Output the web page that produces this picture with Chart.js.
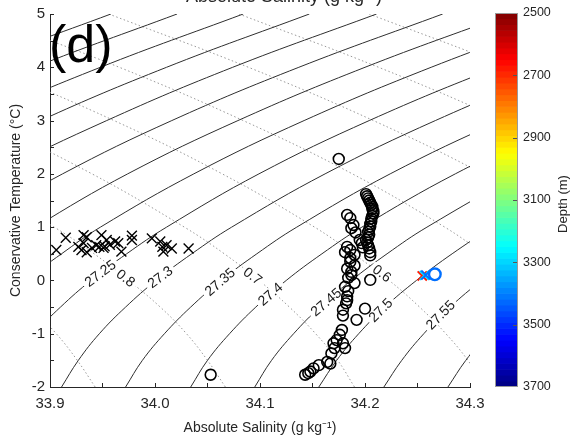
<!DOCTYPE html>
<html>
<head>
<meta charset="utf-8">
<script src="https://cdn.jsdelivr.net/npm/chart.js@4.4.1/dist/chart.umd.min.js"></script>
<style>
  html, body { margin: 0; padding: 0; background: #ffffff; }
  #wrap { position: relative; width: 572px; height: 442px; overflow: hidden; }
  #ts { position: absolute; left: 0; top: 0; }
  #cb { position: absolute; left: 480px; top: 0; }
</style>
</head>
<body>
<div id="wrap">
  <canvas id="ts" width="572" height="442"></canvas>
  <canvas id="cb" width="92" height="442"></canvas>
</div>
<script>
// ---------- axes ----------
const salinityRange = [33.9, 34.3];
const temperatureRange = [-2, 5];
const salinityStep = 0.1;
const temperatureStep = 1;

// ---------- sigma-0 isopycnals: salinity of each level at the listed temperatures ----------
const contourT = [-2, -1.5, -1, -0.5, 0, 0.5, 1, 2, 3, 4, 5];
const sigmaLevels = [26.85, 26.9, 26.95, 27.0, 27.05, 27.1, 27.15, 27.2, 27.25, 27.3, 27.35, 27.4, 27.45, 27.5, 27.55, 27.6];
const sigmaS = [
  [33.358, 33.373, 33.392, 33.416, 33.444, 33.476, 33.513, 33.600, 33.703, 33.822, 33.958],
  [33.419, 33.434, 33.454, 33.477, 33.506, 33.538, 33.575, 33.662, 33.765, 33.885, 34.021],
  [33.481, 33.496, 33.515, 33.539, 33.568, 33.601, 33.638, 33.724, 33.828, 33.948, 34.084],
  [33.542, 33.557, 33.577, 33.601, 33.630, 33.663, 33.700, 33.787, 33.891, 34.011, 34.147],
  [33.603, 33.619, 33.639, 33.663, 33.692, 33.725, 33.762, 33.849, 33.954, 34.074, 34.211],
  [33.665, 33.680, 33.700, 33.725, 33.754, 33.787, 33.824, 33.912, 34.016, 34.137, 34.274],
  [33.726, 33.742, 33.762, 33.787, 33.815, 33.849, 33.886, 33.974, 34.079, 34.200, 34.337],
  [33.788, 33.804, 33.824, 33.848, 33.877, 33.911, 33.948, 34.037, 34.142, 34.263, 34.400],
  [33.849, 33.865, 33.885, 33.910, 33.939, 33.973, 34.011, 34.099, 34.204, 34.326, 34.463],
  [33.911, 33.927, 33.947, 33.972, 34.001, 34.035, 34.073, 34.162, 34.267, 34.389, 34.527],
  [33.972, 33.988, 34.009, 34.034, 34.063, 34.097, 34.135, 34.224, 34.330, 34.452, 34.590],
  [34.034, 34.050, 34.071, 34.096, 34.125, 34.159, 34.197, 34.286, 34.392, 34.515, 34.653],
  [34.095, 34.111, 34.132, 34.157, 34.187, 34.221, 34.259, 34.349, 34.455, 34.578, 34.716],
  [34.156, 34.173, 34.194, 34.219, 34.249, 34.283, 34.322, 34.411, 34.518, 34.641, 34.779],
  [34.218, 34.235, 34.256, 34.281, 34.311, 34.345, 34.384, 34.474, 34.580, 34.703, 34.843],
  [34.279, 34.296, 34.317, 34.343, 34.373, 34.407, 34.446, 34.536, 34.643, 34.766, 34.906]
];

// ---------- dotted spice contours (same temperatures) ----------
const spiceLevels = [0.9, 0.8, 0.7, 0.6, 0.5, 0.4, 0.3, 0.2];
const spiceS = [
  [33.943, 33.926, 33.906, 33.881, 33.851, 33.818, 33.780, 33.693, 33.589, 33.470, 33.336],
  [34.067, 34.050, 34.030, 34.005, 33.975, 33.942, 33.904, 33.816, 33.713, 33.594, 33.460],
  [34.190, 34.174, 34.153, 34.128, 34.099, 34.066, 34.028, 33.940, 33.837, 33.718, 33.584],
  [34.314, 34.298, 34.277, 34.252, 34.223, 34.189, 34.152, 34.064, 33.961, 33.842, 33.708],
  [34.438, 34.422, 34.401, 34.376, 34.347, 34.313, 34.276, 34.188, 34.084, 33.966, 33.832],
  [34.562, 34.546, 34.525, 34.500, 34.471, 34.437, 34.399, 34.312, 34.208, 34.089, 33.956],
  [34.686, 34.670, 34.649, 34.624, 34.595, 34.561, 34.523, 34.436, 34.332, 34.213, 34.080],
  [34.810, 34.794, 34.773, 34.748, 34.718, 34.685, 34.647, 34.560, 34.456, 34.337, 34.204]
];

// ---------- inline contour labels ----------
const isoLabelLevel = [27.25, 27.3, 27.35, 27.4, 27.45, 27.5, 27.55];
const isoLabelS = [33.948, 34.005, 34.062, 34.110, 34.163, 34.215, 34.272];
const isoLabelT = [0.13, 0.06, -0.03, -0.26, -0.41, -0.56, -0.65];
const spiceLabelLevel = [0.8, 0.7, 0.6];
const spiceLabelS = [33.972, 34.093, 34.216];
const spiceLabelT = [0.04, 0.08, 0.13];

// ---------- observations ----------
const crossS = [33.906, 33.915, 33.927, 33.932, 33.935, 33.932, 33.930, 33.935, 33.940, 33.944, 33.947, 33.952,
                33.949, 33.951, 33.954, 33.957, 33.962, 33.965, 33.968, 33.978, 33.978, 33.997, 34.005, 34.007,
                34.008, 34.011, 34.016, 34.032];
const crossT = [0.57, 0.80, 0.63, 0.85, 0.81, 0.70, 0.57, 0.53, 0.61, 0.66, 0.63, 0.64,
                0.85, 0.61, 0.76, 0.67, 0.73, 0.70, 0.54, 0.84, 0.76, 0.79, 0.73, 0.63,
                0.54, 0.66, 0.60, 0.60];

const circleS = [
  34.201, 34.202, 34.203, 34.204, 34.205, 34.206, 34.207, 34.207, 34.208, 34.208, 34.207, 34.206, 34.206,
  34.205, 34.205, 34.204, 34.203, 34.204, 34.203, 34.201, 34.202, 34.203, 34.204, 34.205, 34.205,
  34.183, 34.186, 34.189, 34.187, 34.191,
  34.195, 34.197, 34.198, 34.183, 34.186, 34.181, 34.190, 34.186, 34.186, 34.190, 34.183, 34.187, 34.187,
  34.184, 34.190, 34.181, 34.184, 34.183, 34.183, 34.182, 34.179, 34.179, 34.205, 34.200, 34.192,
  34.178, 34.176, 34.173, 34.179, 34.170, 34.181, 34.171, 34.168, 34.167, 34.164, 34.156, 34.151,
  34.148, 34.146, 34.143,
  34.175, 34.053
];
const circleT = [
  1.62, 1.58, 1.54, 1.50, 1.46, 1.42, 1.38, 1.34, 1.30, 1.26, 1.21, 1.16, 1.11,
  1.06, 1.01, 0.96, 0.91, 0.86, 0.81, 0.76, 0.71, 0.66, 0.60, 0.53, 0.47,
  1.23, 1.17, 1.04, 0.98, 0.90,
  0.76, 0.70, 0.62, 0.63, 0.57, 0.53, 0.48, 0.42, 0.35, 0.28, 0.22, 0.16, 0.10,
  0.05, -0.05, -0.12, -0.20, -0.30, -0.37, -0.43, -0.55, -0.66, 0.01, -0.53, -0.74,
  -0.93, -1.02, -1.12, -1.18, -1.18, -1.27, -1.27, -1.37, -1.56, -1.53, -1.59, -1.65,
  -1.71, -1.74, -1.77,
  2.28, -1.77
];

// deep samples coloured by depth (m)
const deepCrossS = [34.2545, 34.2565, 34.2580];
const deepCrossT = [0.085, 0.095, 0.100];
const deepCrossDepth = [2680, 3300, 3420];
const deepCircleS = [34.2665];
const deepCircleT = [0.115];
const deepCircleDepth = [3420];

// ---------- colour scale ----------
const depthRange = [2500, 3700];
const depthTicks = [2500, 2700, 2900, 3100, 3300, 3500, 3700];
const colorSteps = 64;

const FONT = '"Liberation Sans", Arial, Helvetica, sans-serif';
const INK = '#262626';

function clamp01(v) { return Math.max(0, Math.min(1, v)); }
function jet(t) {
  const r = clamp01(1.5 - Math.abs(4 * t - 3));
  const g = clamp01(1.5 - Math.abs(4 * t - 2));
  const b = clamp01(1.5 - Math.abs(4 * t - 1));
  return 'rgb(' + Math.round(r * 255) + ',' + Math.round(g * 255) + ',' + Math.round(b * 255) + ')';
}
function depthColor(d) { return jet((depthRange[1] - d) / (depthRange[1] - depthRange[0])); }
function pts(xs, ys) { return xs.map((x, i) => ({ x: x, y: ys[i] })); }

// ---------- datasets ----------
const markerSets = [];
deepCircleS.forEach((s, i) => markerSets.push({
  data: [{ x: s, y: deepCircleT[i] }], pointStyle: 'circle', pointRadius: 5.8,
  borderColor: depthColor(deepCircleDepth[i]), backgroundColor: 'rgba(0,0,0,0)', borderWidth: 2.4, order: 0
}));
for (let i = deepCrossS.length - 1; i >= 0; i--) markerSets.push({
  data: [{ x: deepCrossS[i], y: deepCrossT[i] }], pointStyle: 'crossRot', pointRadius: 6.5,
  borderColor: depthColor(deepCrossDepth[i]), borderWidth: 1.8, order: 0
});
markerSets.push({
  data: pts(crossS, crossT), pointStyle: 'crossRot', pointRadius: 7,
  borderColor: '#000', borderWidth: 1.4, order: 0
});
markerSets.push({
  data: pts(circleS, circleT), pointStyle: 'circle', pointRadius: 5.4,
  borderColor: '#000', backgroundColor: 'rgba(0,0,0,0)', borderWidth: 1.6, order: 0
});

const firstContour = markerSets.length;
const isoSets = sigmaLevels.map((lvl, i) => ({
  kind: 'sigma', level: lvl,
  data: pts(sigmaS[i], contourT), showLine: true, pointRadius: 0, pointHoverRadius: 0,
  borderColor: '#2e2e2e', borderWidth: 1, tension: 0.4, order: 1
}));
const spiceSets = spiceLevels.map((lvl, i) => ({
  kind: 'spice', level: lvl,
  data: pts(spiceS[i], contourT), showLine: true, pointRadius: 0, pointHoverRadius: 0,
  borderColor: '#8c8c8c', borderWidth: 0.9, borderDash: [1.5, 2.5], tension: 0.4, order: 1
}));
const allSets = markerSets.concat(isoSets, spiceSets);

// ---------- plugins ----------
const inwardTicks = {
  id: 'inwardTicks',
  afterDatasetsDraw(chart) {
    const { ctx, chartArea: a, scales: { x, y } } = chart;
    ctx.save();
    ctx.strokeStyle = INK; ctx.lineWidth = 1;
    const len = 4;
    const half = salinityStep / 2;
    for (let v = salinityRange[0]; v <= salinityRange[1] + 1e-9; v += half) {
      const px = Math.round(x.getPixelForValue(v)) + 0.5;
      ctx.beginPath(); ctx.moveTo(px, a.bottom); ctx.lineTo(px, a.bottom - len); ctx.stroke();
    }
    const hy = temperatureStep / 2;
    for (let v = temperatureRange[0]; v <= temperatureRange[1] + 1e-9; v += hy) {
      const py = Math.round(y.getPixelForValue(v)) + 0.5;
      ctx.beginPath(); ctx.moveTo(a.left, py); ctx.lineTo(a.left + len, py); ctx.stroke();
    }
    ctx.restore();
  }
};

function segmentAngle(chart, datasetIndex, t) {
  const pts = chart.getDatasetMeta(datasetIndex).data;
  let j = 0;
  while (j < contourT.length - 2 && contourT[j + 1] < t) j++;
  let dx = pts[j + 1].x - pts[j].x, dy = pts[j + 1].y - pts[j].y;
  if (dx < 0) { dx = -dx; dy = -dy; }
  return Math.atan2(dy, dx);
}

function drawInlineLabel(ctx, text, px, py, ang) {
  ctx.save();
  ctx.translate(px, py); ctx.rotate(ang);
  ctx.font = '14px ' + FONT;
  const w = ctx.measureText(text).width;
  ctx.fillStyle = '#ffffff';
  ctx.fillRect(-w / 2 - 3, -5.5, w + 6, 11);
  ctx.fillStyle = '#1a1a1a';
  ctx.textAlign = 'center'; ctx.textBaseline = 'middle';
  ctx.fillText(text, 0, 0.5);
  ctx.restore();
}

const contourLabels = {
  id: 'contourLabels',
  afterDatasetDraw(chart, args) {
    if (args.index !== firstContour) return;
    const { ctx, scales: { x, y } } = chart;
    isoLabelLevel.forEach((lvl, i) => {
      const di = firstContour + sigmaLevels.indexOf(lvl);
      const ang = segmentAngle(chart, di, isoLabelT[i]);
      drawInlineLabel(ctx, String(lvl), x.getPixelForValue(isoLabelS[i]), y.getPixelForValue(isoLabelT[i]), ang);
    });
    spiceLabelLevel.forEach((lvl, i) => {
      const di = firstContour + sigmaLevels.length + spiceLevels.indexOf(lvl);
      const ang = segmentAngle(chart, di, spiceLabelT[i]);
      drawInlineLabel(ctx, String(lvl), x.getPixelForValue(spiceLabelS[i]), y.getPixelForValue(spiceLabelT[i]), ang);
    });
  }
};

const panelText = {
  id: 'panelText',
  afterDraw(chart) {
    const { ctx, chartArea: a } = chart;
    ctx.save();
    ctx.fillStyle = '#000';
    ctx.font = '52px ' + FONT;
    ctx.textAlign = 'left'; ctx.textBaseline = 'alphabetic';
    ctx.fillText('(d)', a.left - 1, a.top + 48);
    ctx.fillStyle = INK;
    ctx.font = '18px ' + FONT;
    ctx.textAlign = 'center';
    ctx.fillText('Absolute Salinity (g kg\u207B\u00B9)', 284, 2);
    ctx.restore();
  }
};

// ---------- T-S diagram ----------
new Chart(document.getElementById('ts'), {
  type: 'scatter',
  data: { datasets: allSets },
  options: {
    responsive: false, animation: false, events: [],
    layout: { padding: { left: 0, right: 102, top: 14, bottom: 0 } },
    plugins: { legend: { display: false }, tooltip: { enabled: false } },
    scales: {
      x: {
        type: 'linear', min: salinityRange[0], max: salinityRange[1],
        ticks: { stepSize: salinityStep, callback: v => v.toFixed(1), font: { family: FONT, size: 15 }, color: INK, padding: 8, maxRotation: 0, autoSkip: false },
        grid: { display: false, drawTicks: false },
        border: { display: true, color: INK, width: 1 },
        title: { display: true, text: 'Absolute Salinity (g kg\u207B\u00B9)', font: { family: FONT, size: 14 }, color: INK, padding: { top: 0, bottom: 5 } },
        afterFit(s) { s.height = 55; }
      },
      y: {
        type: 'linear', min: temperatureRange[0], max: temperatureRange[1],
        ticks: { stepSize: temperatureStep, callback: v => String(v), font: { family: FONT, size: 15 }, color: INK, padding: 5 },
        grid: { display: false, drawTicks: false },
        border: { display: true, color: INK, width: 1 },
        title: { display: true, text: 'Conservative Temperature (\u00B0C)', font: { family: FONT, size: 14 }, color: INK, padding: { top: 8, bottom: 0 } },
        afterFit(s) { s.width = 50; }
      }
    }
  },
  plugins: [contourLabels, inwardTicks, panelText]
});

// ---------- depth colour bar ----------
const bandSize = (depthRange[1] - depthRange[0]) / colorSteps;
const bandSets = [];
for (let i = 0; i < colorSteps; i++) {
  const lo = depthRange[0] + i * bandSize, hi = lo + bandSize;
  bandSets.push({ data: [[lo, hi]], backgroundColor: depthColor((lo + hi) / 2), borderWidth: 0 });
}

const barFrame = {
  id: 'barFrame',
  afterDraw(chart) {
    const { ctx, chartArea: a, scales: { y } } = chart;
    ctx.save();
    ctx.strokeStyle = '#9a9a9a'; ctx.lineWidth = 1;
    ctx.strokeRect(Math.round(a.left) + 0.5, Math.round(a.top) + 0.5, Math.round(a.right - a.left) - 1, Math.round(a.bottom - a.top) - 1);
    ctx.strokeStyle = '#555';
    depthTicks.slice(1, -1).forEach(d => {
      const py = Math.round(y.getPixelForValue(d)) + 0.5;
      ctx.beginPath(); ctx.moveTo(a.right - 5, py); ctx.lineTo(a.right - 1, py); ctx.stroke();
    });
    ctx.fillStyle = INK;
    ctx.font = '13px ' + FONT;
    ctx.translate(83, (a.top + a.bottom) / 2 + 4);
    ctx.rotate(-Math.PI / 2);
    ctx.textAlign = 'center'; ctx.textBaseline = 'middle';
    ctx.fillText('Depth (m)', 0, 0);
    ctx.restore();
  }
};

new Chart(document.getElementById('cb'), {
  type: 'bar',
  data: { labels: ['depth'], datasets: bandSets },
  options: {
    responsive: false, animation: false, events: [],
    layout: { padding: { left: 15, right: 0, top: 13, bottom: 55 } },
    plugins: { legend: { display: false }, tooltip: { enabled: false } },
    datasets: { bar: { grouped: false, barPercentage: 1, categoryPercentage: 1 } },
    scales: {
      x: { display: false },
      y: {
        position: 'right', min: depthRange[0], max: depthRange[1], reverse: true,
        afterBuildTicks(s) { s.ticks = depthTicks.map(v => ({ value: v })); },
        ticks: { font: { family: FONT, size: 12.5 }, color: INK, padding: 5, callback: v => String(v) },
        grid: { display: false, drawTicks: false },
        border: { display: false },
        afterFit(s) { s.width = 54; }
      }
    }
  },
  plugins: [barFrame]
});
</script>
</body>
</html>
